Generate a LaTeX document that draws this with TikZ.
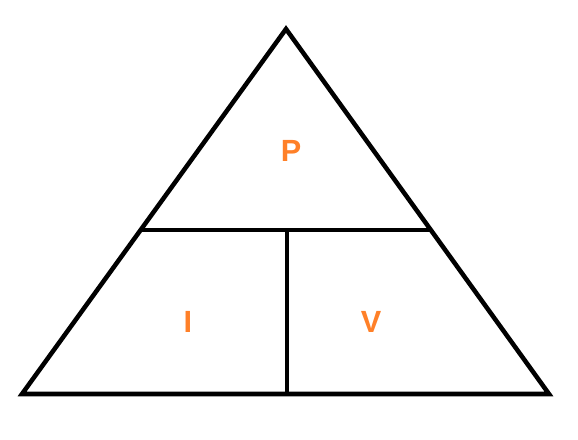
\documentclass[tikz,border=0pt]{standalone}
\usepackage{fontspec}
\setmainfont{Liberation Sans}
\usetikzlibrary{calc}
\definecolor{lbl}{RGB}{255,128,40}
\begin{document}
\begin{tikzpicture}[x=0.75pt,y=-0.75pt,
  edge/.style={line width=3.4pt,line join=miter,line cap=butt},
  lbltext/.style={text=lbl,font=\bfseries\fontsize{23}{23}\selectfont,inner sep=0pt}]
\useasboundingbox (0,0) rectangle (578,439);
\coordinate (top) at (286,29);
\coordinate (bl) at (22,394);
\coordinate (br) at (549,394);
\coordinate (ml) at ($(bl)!0.4493!(top)$);
\coordinate (mr) at ($(br)!0.4493!(top)$);
\coordinate (mt) at (287,230);
\coordinate (mb) at (287,394);
\draw[edge] (bl) -- (top) -- (br) -- cycle;
\draw[edge] (ml) -- (mr);
\draw[edge] (mt) -- (mb);
\node[lbltext] (p) at (291,151) {P};
\node[lbltext] (i) at (188,322) {I};
\node[lbltext] (v) at (371,322) {V};
\end{tikzpicture}
\end{document}
